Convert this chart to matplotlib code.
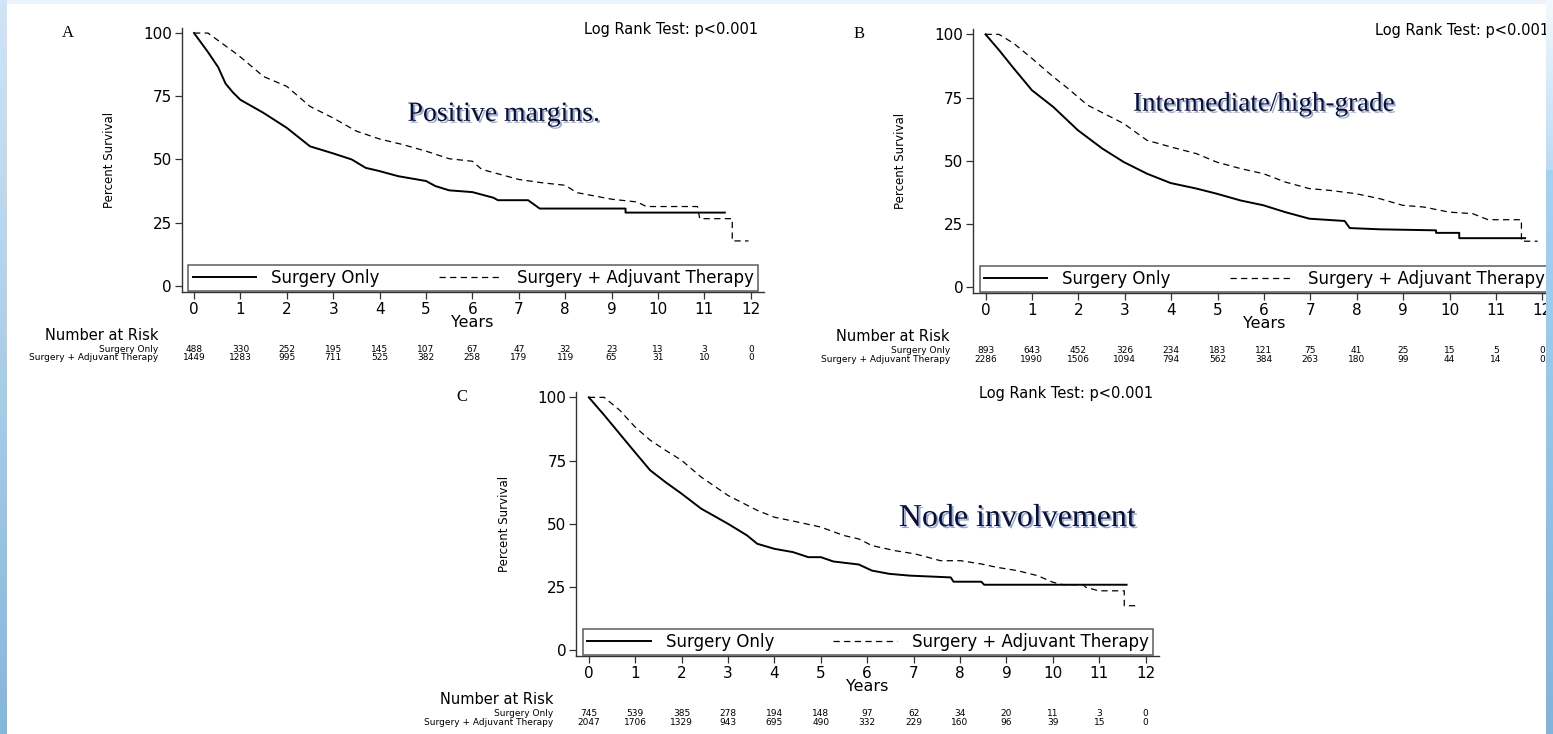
import matplotlib
matplotlib.use("Agg")
import matplotlib.pyplot as plt
import matplotlib.patheffects as pe
import numpy as np

# ---- data ----
years = np.arange(0, 13)

# panel A: positive margins
a_only_t = [0, 0.3, 0.52, 0.68, 0.84, 1.0, 1.5, 2.0, 2.5, 3.0, 3.4, 3.7, 4.0, 4.4, 5.0, 5.2,
            5.5, 6.0, 6.45, 6.55, 7.2, 7.45, 9.3, 9.3, 11.44]
a_only_s = [100, 92.5, 86.5, 80, 76.5, 73.6, 68.4, 62.5, 55.2, 52.4, 50, 46.7, 45.4, 43.4, 41.5,
            39.5, 37.8, 37.1, 34.9, 33.9, 33.9, 30.6, 30.6, 29.0, 29.0]
a_adj_t = [0, 0.3, 0.95, 1.5, 2.0, 2.5, 3.0, 3.5, 4.0, 4.5, 5.0, 5.5, 6.0, 6.2, 7.0, 7.5, 8.0,
           8.25, 9.0, 9.55, 9.75, 10.85, 10.9, 11.6, 11.6, 11.95]
a_adj_s = [100, 100, 91.3, 82.8, 78.9, 71.0, 66.4, 61.2, 58.1, 55.9, 53.3, 50.3, 49.3, 46.1,
           42.1, 40.8, 39.8, 36.9, 34.3, 33.2, 31.4, 31.4, 26.6, 26.6, 17.8, 17.8]
a_risk_only = [488, 330, 252, 195, 145, 107, 67, 47, 32, 23, 13, 3, 0]
a_risk_adj = [1449, 1283, 995, 711, 525, 382, 258, 179, 119, 65, 31, 10, 0]

# panel B: intermediate/high-grade
b_only_t = [0, 0.29, 0.61, 1.0, 1.46, 1.99, 2.52, 2.98, 3.48, 3.99, 4.55, 4.98, 5.5, 5.99,
            6.46, 6.98, 7.74, 7.85, 8.5, 9.71, 9.71, 10.21, 10.21, 11.63]
b_only_s = [100, 93.8, 86.5, 77.9, 71.3, 62.1, 54.8, 49.5, 44.9, 41.2, 39.0, 37.0, 34.3, 32.4,
            29.7, 27.1, 26.2, 23.4, 22.9, 22.5, 21.5, 21.5, 19.4, 19.4]
b_adj_t = [0, 0.29, 0.61, 1.0, 1.46, 1.75, 2.2, 2.98, 3.48, 3.99, 4.55, 4.98, 5.5, 5.99, 6.46,
           6.98, 7.42, 7.98, 8.5, 8.99, 9.45, 9.99, 10.5, 10.83, 11.55, 11.55, 11.9]
b_adj_s = [100, 100, 96.4, 90.5, 83.2, 79.0, 72.0, 64.7, 58.1, 55.5, 52.8, 49.5, 46.9, 44.9,
           41.6, 39.0, 38.3, 37.0, 35.0, 32.4, 31.7, 29.7, 29.1, 26.7, 26.7, 18.2, 18.2]
b_risk_only = [893, 643, 452, 326, 234, 183, 121, 75, 41, 25, 15, 5, 0]
b_risk_adj = [2286, 1990, 1506, 1094, 794, 562, 384, 263, 180, 99, 44, 14, 0]

# panel C: node involvement
c_only_t = [0, 0.33, 0.66, 0.99, 1.32, 1.65, 2.0, 2.42, 3.0, 3.41, 3.63, 4.0, 4.4, 4.73, 5.0,
            5.27, 5.82, 6.1, 6.48, 6.92, 7.8, 7.86, 8.46, 8.52, 11.59]
c_only_s = [100, 93.0, 85.7, 78.4, 71.2, 66.5, 61.9, 56.0, 50.0, 45.4, 42.1, 40.1, 38.8, 36.8,
            36.8, 35.1, 33.9, 31.5, 30.2, 29.5, 28.8, 27.1, 27.1, 25.9, 25.9]
c_adj_t = [0, 0.33, 0.66, 0.99, 1.32, 1.65, 2.0, 2.42, 3.0, 3.63, 4.0, 4.5, 5.0, 5.49, 5.82,
           6.1, 6.59, 7.03, 7.58, 8.02, 8.46, 8.79, 9.23, 9.67, 10.0, 10.22, 10.66, 10.71,
           10.99, 11.54, 11.54, 11.87]
c_adj_s = [100, 100, 95.0, 88.4, 83.1, 79.1, 75.1, 68.5, 61.2, 55.3, 52.6, 50.7, 48.7, 45.4,
           44.0, 41.4, 39.4, 38.1, 35.4, 35.4, 34.1, 32.8, 31.5, 29.5, 26.9, 25.9, 25.9, 24.9,
           23.5, 23.5, 17.6, 17.6]
c_risk_only = [745, 539, 385, 278, 194, 148, 97, 62, 34, 20, 11, 3, 0]
c_risk_adj = [2047, 1706, 1329, 943, 695, 490, 332, 229, 160, 96, 39, 15, 0]

W, H = 1553, 734
AX_W, AX_H = 582.3, 264
INK = "#333333"

fig = plt.figure(figsize=(W / 100, H / 100), dpi=100)
fig.patch.set_facecolor("white")


def make_axes(left_px, top_px):
    return fig.add_axes([left_px / W, 1 - (top_px + AX_H) / H, AX_W / W, AX_H / H])


def draw_panel(ax, letter, title, title_xy, title_size, only_t, only_s, adj_t, adj_s,
               risk_only, risk_adj):
    ax.plot(only_t, only_s, color="black", lw=1.4, label="Surgery Only")
    ax.plot(adj_t, adj_s, color="black", lw=0.9, ls=(0, (5, 3.5)),
            label="Surgery + Adjuvant Therapy")
    ax.set_xlim(-0.27, 12.28)
    ax.set_ylim(-2.4, 102)
    ax.set_xticks(years)
    ax.set_yticks([0, 25, 50, 75, 100])
    for side in ("top", "right"):
        ax.spines[side].set_visible(False)
    for side in ("left", "bottom"):
        ax.spines[side].set_color(INK)
        ax.spines[side].set_linewidth(1.0)
    ax.tick_params(direction="out", length=5, width=0.9, color=INK, labelsize=11, pad=2)
    ax.set_ylabel("Percent Survival", fontsize=8.5)
    ax.yaxis.set_label_coords(-0.113, 0.5)
    ax.set_xlabel("Years", fontsize=11.5)
    ax.xaxis.set_label_coords(0.5, -0.114)
    ax.xaxis.label.set_va("center")

    leg = ax.legend(loc="lower left", bbox_to_anchor=(0.012, 0.004, 0.978, 0.091),
                    mode="expand", ncol=2, fontsize=12, frameon=True, fancybox=False,
                    borderpad=0.25, handlelength=3.8, handletextpad=0.9, borderaxespad=0)
    leg.get_frame().set_edgecolor(INK)
    leg.get_frame().set_linewidth(1.1)

    ax.text(0.99, 0.995, "Log Rank Test: p<0.001", transform=ax.transAxes, ha="right",
            va="center", fontsize=10.5)
    ax.annotate(letter, xy=(0, 1), xycoords="axes fraction", xytext=(-114, -5),
                textcoords="offset pixels", ha="center", va="center",
                family="Liberation Serif", fontsize=12)
    ax.text(title_xy[0], title_xy[1], title, ha="center", va="baseline",
            family="Liberation Serif", fontsize=title_size, color="#0e0e30",
            path_effects=[pe.withSimplePatchShadow(offset=(1.4, -1.4), shadow_rgbFace="#3c64b4",
                                                   alpha=0.55)])

    # number at risk table
    ax.annotate("Number at Risk", xy=(0, 0), xycoords="axes fraction", xytext=(-23, -43),
                textcoords="offset pixels", ha="right", va="center", fontsize=10.5)
    ax.annotate("Surgery Only", xy=(0, 0), xycoords="axes fraction", xytext=(-23, -57),
                textcoords="offset pixels", ha="right", va="center", fontsize=6.5)
    ax.annotate("Surgery + Adjuvant Therapy", xy=(0, 0), xycoords="axes fraction",
                xytext=(-23, -66), textcoords="offset pixels", ha="right", va="center",
                fontsize=6.5)
    for yr, n1, n2 in zip(years, risk_only, risk_adj):
        ax.annotate(str(n1), xy=(yr, 0), xycoords=("data", "axes fraction"),
                    xytext=(0, -57), textcoords="offset pixels", ha="center", va="center",
                    fontsize=6.5)
        ax.annotate(str(n2), xy=(yr, 0), xycoords=("data", "axes fraction"),
                    xytext=(0, -66), textcoords="offset pixels", ha="center", va="center",
                    fontsize=6.5)


ax_a = make_axes(181.5, 28)
draw_panel(ax_a, "A", "Positive margins.", (6.68, 65.3), 20, a_only_t, a_only_s,
           a_adj_t, a_adj_s, a_risk_only, a_risk_adj)

ax_b = make_axes(973, 29.3)
draw_panel(ax_b, "B", "Intermediate/high-grade", (6.0, 69.8), 19.5, b_only_t, b_only_s,
           b_adj_t, b_adj_s, b_risk_only, b_risk_adj)

ax_c = make_axes(576.3, 392.3)
draw_panel(ax_c, "C", "Node involvement", (9.24, 49.1), 23, c_only_t, c_only_s,
           c_adj_t, c_adj_s, c_risk_only, c_risk_adj)


# decorative slide border strips
def strip(x0, y0, w, h, c_top, c_bot):
    sax = fig.add_axes([x0 / W, 1 - (y0 + h) / H, w / W, h / H])
    sax.axis("off")
    top = np.array(matplotlib.colors.to_rgb(c_top))
    bot = np.array(matplotlib.colors.to_rgb(c_bot))
    frac = np.linspace(0, 1, 200)[:, None, None]
    grad = top[None, None, :] * (1 - frac) + bot[None, None, :] * frac
    sax.imshow(grad, aspect="auto", extent=(0, 1, 0, 1))


strip(0, 0, W, 4, "#eaf3fb", "#eef6fc")
strip(0, 0, 7, H, "#cfe5f6", "#84b7dc")
strip(1546, 0, 7, 170, "#f4f9fd", "#b9dbf4")
strip(1546, 170, 7, H - 170, "#a6d2f2", "#82b4da")

fig.savefig("out.png", dpi=100)
